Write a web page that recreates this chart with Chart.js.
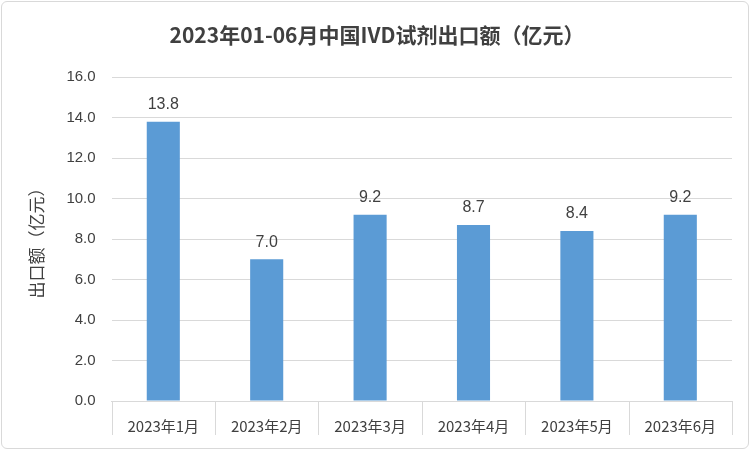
<!DOCTYPE html>
<html><head><meta charset="utf-8">
<script src="https://cdn.jsdelivr.net/npm/chart.js@4/dist/chart.umd.min.js"></script>
<style>
body{margin:0;background:#fff}
#wrap{position:absolute;left:1px;top:1px;width:748px;height:448px;border:1px solid #d9d9d9;border-radius:6px;box-sizing:border-box}
</style></head><body>
<div id="wrap"><canvas id="c" width="746" height="446"></canvas></div>
<script>
var categories = ['2023年1月','2023年2月','2023年3月','2023年4月','2023年5月','2023年6月'];
var exportValues = [13.8, 7.0, 9.2, 8.7, 8.4, 9.2];

var labelPlugin = {
  id: 'labels',
  afterDatasetsDraw: function(chart){
    var ctx = chart.ctx, area = chart.chartArea;
    ctx.save();
    ctx.strokeStyle = '#d9d9d9';
    ctx.lineWidth = 1;
    for (var k = 0; k <= categories.length; k++) {
      var px = Math.round(area.left + (area.right - area.left) * k / categories.length) + 0.5;
      ctx.beginPath(); ctx.moveTo(px, area.bottom); ctx.lineTo(px, area.bottom + 34); ctx.stroke();
    }
    chart.getDatasetMeta(0).data.forEach(function(bar, i){
      ctx.fillStyle = '#404040';
      ctx.font = '16px "Liberation Sans", Arial';
      ctx.textAlign = 'center';
      ctx.textBaseline = 'bottom';
      ctx.fillText(exportValues[i].toFixed(1), bar.x, bar.y - 9);
    });
    ctx.restore();
  }
};

new Chart(document.getElementById('c'), {
  type: 'bar',
  data: {
    labels: categories,
    datasets: [{ data: exportValues, backgroundColor: '#5B9BD5', barPercentage: 0.32, categoryPercentage: 1 }]
  },
  options: {
    responsive: false,
    animation: false,
    layout: { padding: { left: 20, right: 16, top: 4, bottom: 5 } },
    plugins: {
      legend: { display: false },
      tooltip: { enabled: false },
      title: { display: true, text: '2023年01-06月中国IVD试剂出口额（亿元）', color: '#404040',
        font: { size: 21, weight: 'bold', family: '"Noto Sans CJK SC"' }, padding: { top: 16, bottom: 30 } }
    },
    scales: {
      x: {
        grid: { display: false },
        border: { color: '#d9d9d9' },
        ticks: { color: '#404040', font: { size: 15, family: '"Noto Sans CJK SC"' }, padding: 8 }
      },
      y: {
        min: 0, max: 16,
        grid: { color: '#d9d9d9', drawTicks: false },
        border: { display: false },
        ticks: { stepSize: 2, color: '#404040', padding: 16, font: { size: 15, family: '"Liberation Sans"' },
          callback: function(v){ return v.toFixed(1); } },
        title: { display: true, text: '出口额（亿元）', color: '#404040', font: { size: 17, family: '"Noto Sans CJK SC"' } }
      }
    }
  },
  plugins: [labelPlugin]
});
</script>
</body></html>
